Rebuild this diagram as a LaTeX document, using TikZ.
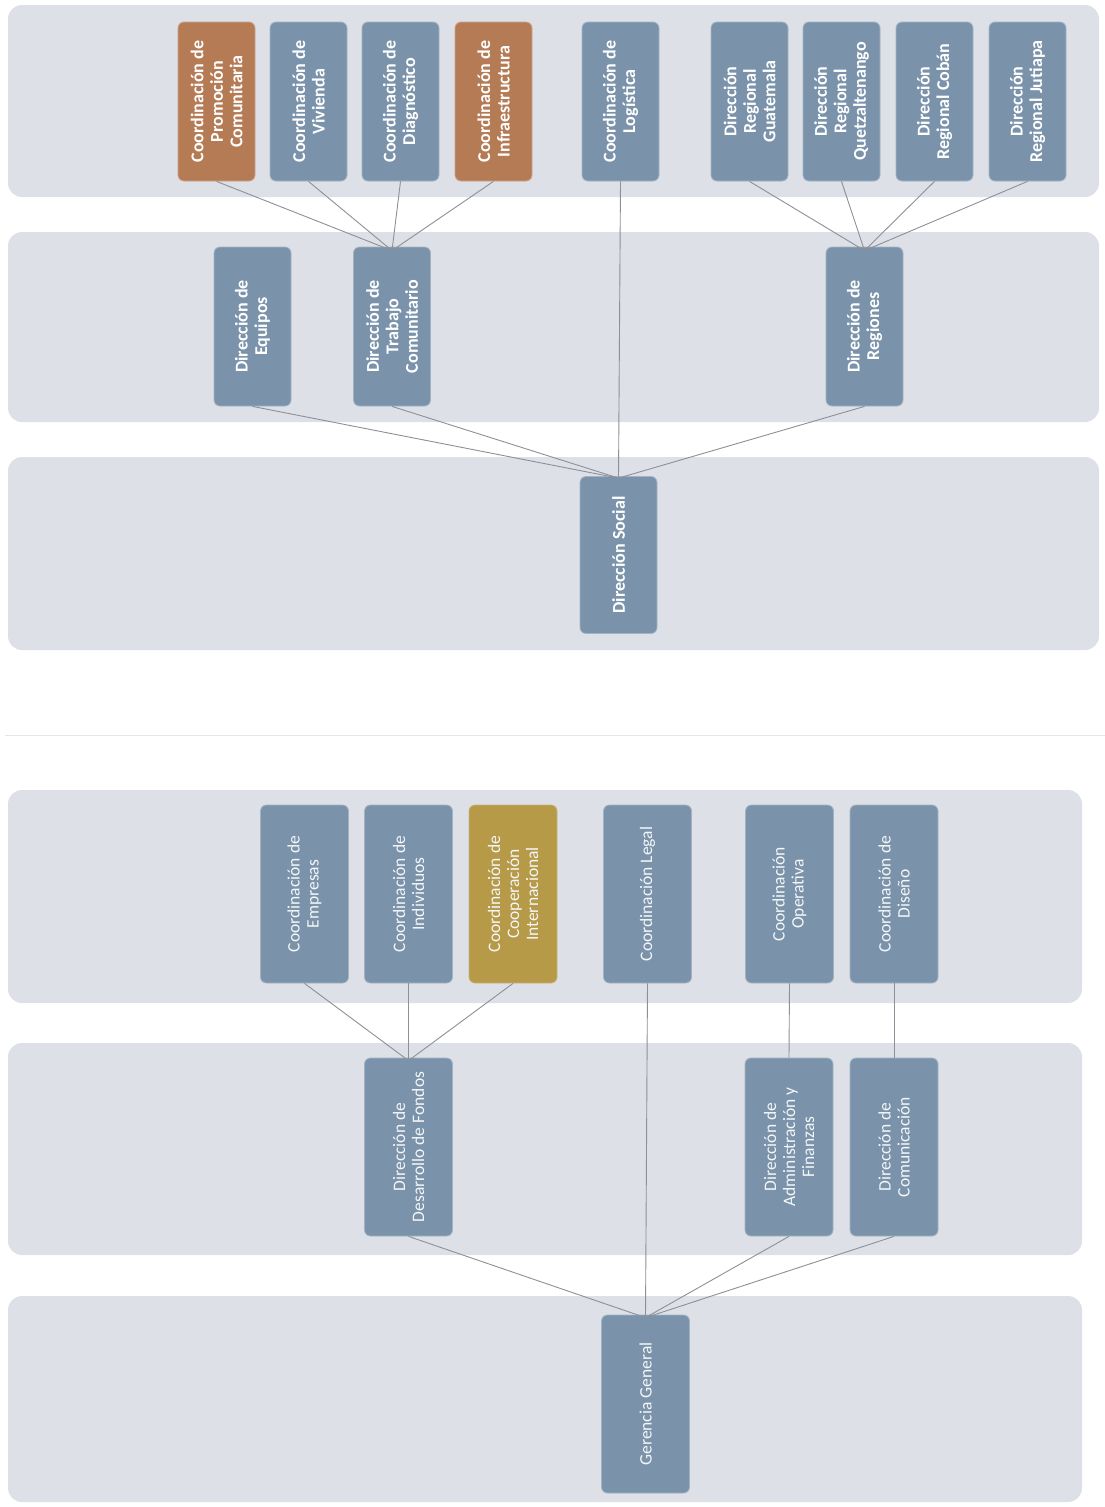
\documentclass[tikz,border=0pt]{standalone}
\usepackage{fontspec}
\setmainfont{Carlito}
\definecolor{bandc}{HTML}{DDE0E7}
\definecolor{nodeb}{HTML}{7A93AA}
\definecolor{nodeo}{HTML}{B57B55}
\definecolor{nodeg}{HTML}{B69A48}
\definecolor{linec}{HTML}{8C9099}
\definecolor{divc}{HTML}{E4E6EA}
\newcommand\rotlabel[2]{\rotatebox{90}{\parbox{#1}{\centering #2}}}
\tikzset{
  band/.style={fill=bandc, draw=none, rounded corners=14pt},
  topbox/.style={rectangle, rounded corners=6pt, fill=nodeb, draw=nodeb!70!white, line width=0.8pt,
     minimum width=77pt, minimum height=159pt, inner sep=0pt, text=white,
     font=\fontsize{18}{19.5}\selectfont\bfseries},
  botbox/.style={rectangle, rounded corners=6pt, fill=nodeb, draw=nodeb!70!white, line width=0.8pt,
     minimum width=88pt, minimum height=178pt, inner sep=0pt, text=white!92!nodeb,
     font=\fontsize{17.5}{19}\selectfont},
  conn/.style={draw=linec, line width=0.9pt},
}
\begin{document}
\begin{tikzpicture}[x=1pt,y=-1pt]
\useasboundingbox (0,0) rectangle (1105,1507);
\fill[white] (0,0) rectangle (1105,1507);
% ---------- top chart bands
\path[band] (8,5) rectangle (1099,197);
\path[band] (8,232) rectangle (1099,422);
\path[band] (8,457) rectangle (1099,650);
% divider
\draw[divc, line width=1pt] (5,735) -- (1105,735);
% ---------- bottom chart bands
\path[band] (8,790) rectangle (1082,1003);
\path[band] (8,1043) rectangle (1082,1255);
\path[band] (8,1296) rectangle (1082,1502);

% ---------- top chart nodes
\node[topbox, fill=nodeo, draw=nodeo!70!white] (promo) at (216.5,101.5) {\rotlabel{155pt}{Coordinación de\\Promoción\\Comunitaria}};
\node[topbox] (viv) at (308.5,101.5) {\rotlabel{155pt}{Coordinación de\\Vivienda}};
\node[topbox] (diag) at (400.5,101.5) {\rotlabel{155pt}{Coordinación de\\Diagnóstico}};
\node[topbox, fill=nodeo, draw=nodeo!70!white] (infra) at (493.5,101.5) {\rotlabel{155pt}{Coordinación de\\Infraestructura}};
\node[topbox] (logi) at (620.5,101.5) {\rotlabel{155pt}{Coordinación de\\Logística}};
\node[topbox] (guate) at (749.5,101.5) {\rotlabel{155pt}{Dirección\\Regional\\Guatemala}};
\node[topbox] (quetz) at (841.5,101.5) {\rotlabel{155pt}{Dirección\\Regional\\Quetzaltenango}};
\node[topbox] (coban) at (934.5,101.5) {\rotlabel{155pt}{Dirección\\Regional Cobán}};
\node[topbox] (juti) at (1027.5,101.5) {\rotlabel{155pt}{Dirección\\Regional Jutiapa}};

\node[topbox] (equipos) at (252.5,326.5) {\rotlabel{155pt}{Dirección de\\Equipos}};
\node[topbox] (trabajo) at (392,326.5) {\rotlabel{155pt}{Dirección de\\Trabajo\\Comunitario}};
\node[topbox] (regiones) at (864.5,326.5) {\rotlabel{155pt}{Dirección de\\Regiones}};

\node[topbox, minimum height=157pt] (social) at (618.5,555) {\rotlabel{155pt}{Dirección Social}};

% top connectors
\coordinate (tj) at ([yshift=-4pt]trabajo.north);
\coordinate (rj) at ([yshift=-4pt]regiones.north);
\coordinate (sj) at ([yshift=-2pt]social.north);
\foreach \n in {promo,viv,diag,infra} \draw[conn] (\n.south) -- (tj);
\foreach \n in {guate,quetz,coban,juti} \draw[conn] (\n.south) -- (rj);
\draw[conn] (logi.south) -- (sj);
\foreach \n in {equipos,trabajo,regiones} \draw[conn] (\n.south) -- (sj);

% ---------- bottom chart nodes
\node[botbox] (empresas) at (304.5,894) {\rotlabel{172pt}{Coordinación de\\Empresas}};
\node[botbox] (indiv) at (408.5,894) {\rotlabel{172pt}{Coordinación de\\Individuos}};
\node[botbox, fill=nodeg, draw=nodeg!75!white] (coop) at (513,894) {\rotlabel{172pt}{Coordinación de\\Cooperación\\Internacional}};
\node[botbox] (legal) at (647.5,894) {\rotlabel{172pt}{Coordinación Legal}};
\node[botbox] (opera) at (789.5,894) {\rotlabel{172pt}{Coordinación\\Operativa}};
\node[botbox] (diseno) at (894,894) {\rotlabel{172pt}{Coordinación de\\Diseño}};

\node[botbox] (fondos) at (408.5,1147) {\rotlabel{172pt}{Dirección de\\Desarrollo de Fondos}};
\node[botbox] (admin) at (789,1147) {\rotlabel{172pt}{Dirección de\\Administración y\\Finanzas}};
\node[botbox] (comun) at (894,1147) {\rotlabel{172pt}{Dirección de\\Comunicación}};

\node[botbox] (gerencia) at (645.5,1404) {\rotlabel{172pt}{Gerencia General}};

% bottom connectors
\coordinate (fj) at ([yshift=-3pt]fondos.north);
\coordinate (gj) at ([yshift=-3pt]gerencia.north);
\foreach \n in {empresas,indiv,coop} \draw[conn] (\n.south) -- (fj);
\draw[conn] (legal.south) -- (gj);
\draw[conn] (opera.south) -- (admin.north);
\draw[conn] (diseno.south) -- (comun.north);
\foreach \n in {fondos,admin,comun} \draw[conn] (\n.south) -- (gj);
\end{tikzpicture}
\end{document}
